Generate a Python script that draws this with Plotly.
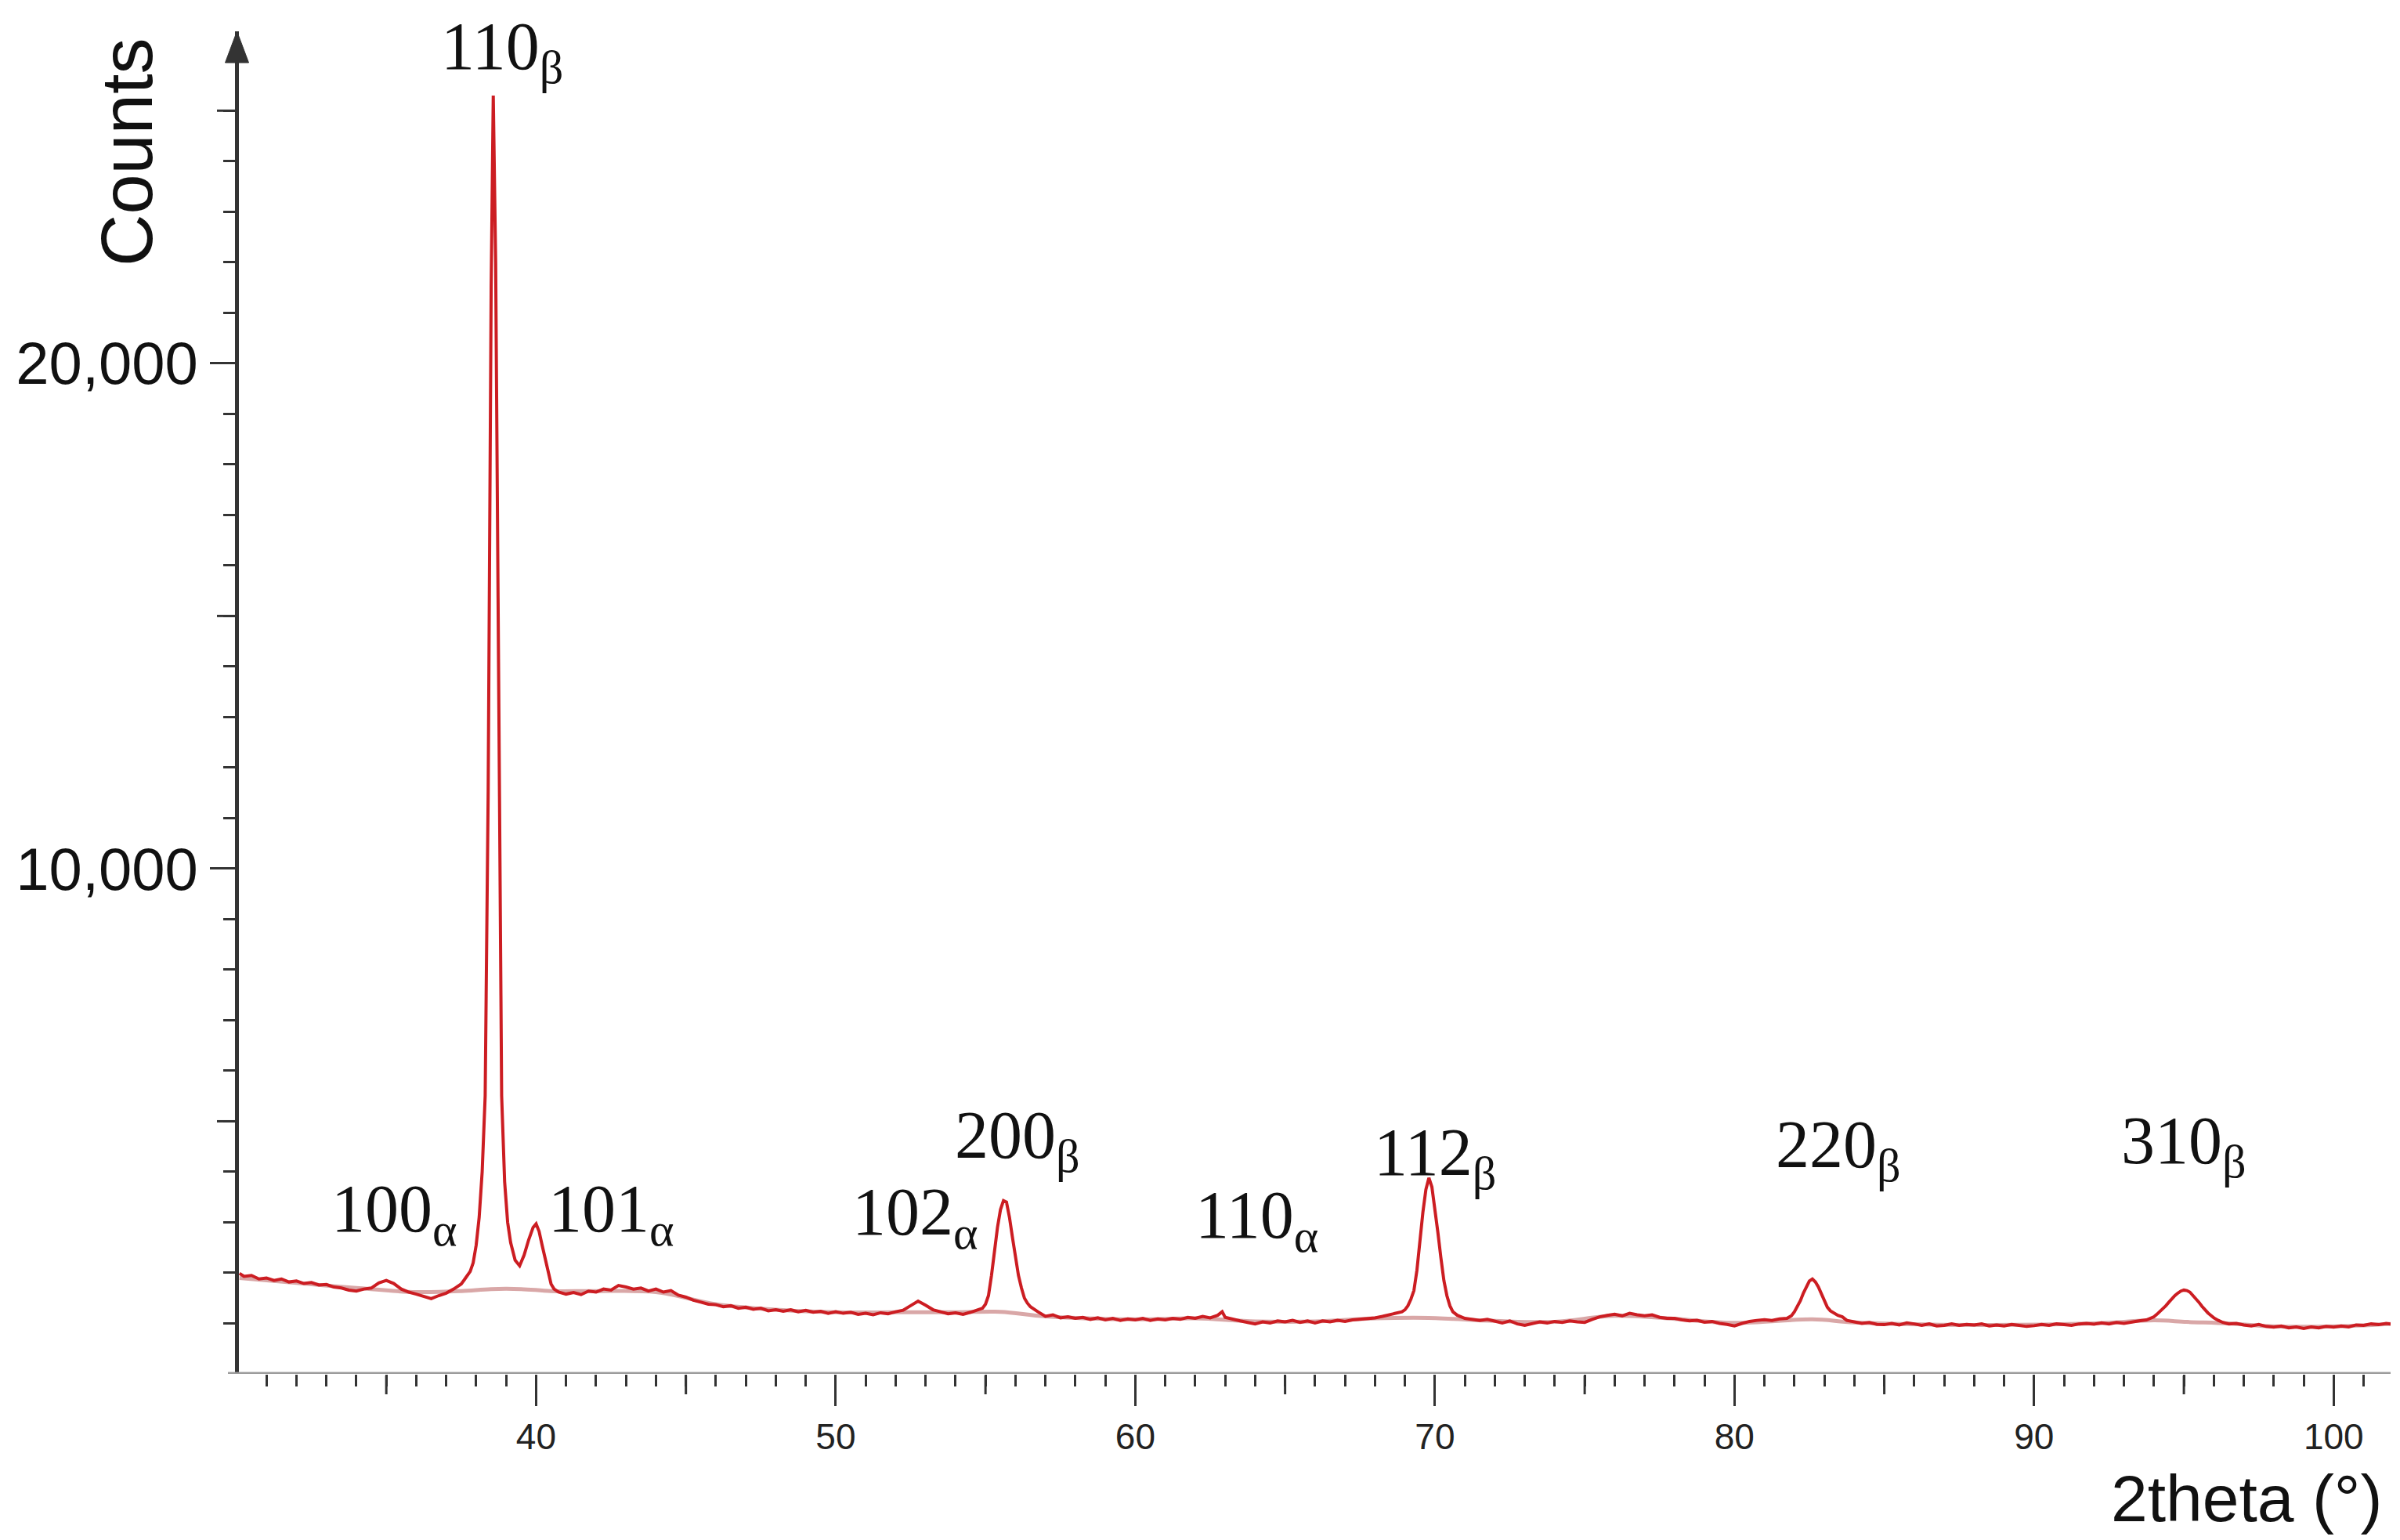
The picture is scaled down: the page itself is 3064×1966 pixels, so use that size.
import plotly.graph_objects as go

# Difractograma XRD
two_theta = [
    30.1, 30.25, 30.5, 30.75, 31.0, 31.25, 31.5, 31.75, 32.0, 32.25,
    32.5, 32.75, 33.0, 33.25, 33.5, 33.75, 34.0, 34.25, 34.5, 34.75,
    35.0, 35.25, 35.5, 35.75, 36.0, 36.25, 36.5, 36.75, 37.0, 37.25,
    37.5, 37.6, 37.7, 37.8, 37.9, 38.0, 38.1, 38.2, 38.3, 38.4,
    38.5, 38.57, 38.65, 38.75, 38.85, 38.95, 39.05, 39.15, 39.3, 39.45,
    39.6, 39.75, 39.9, 40.0, 40.1, 40.2, 40.3, 40.4, 40.5, 40.6,
    40.75, 41.0, 41.25, 41.5, 41.75, 42.0, 42.25, 42.5, 42.75, 43.0,
    43.25, 43.5, 43.75, 44.0, 44.25, 44.5, 44.75, 45.0, 45.25, 45.5,
    45.75, 46.0, 46.25, 46.5, 46.75, 47.0, 47.25, 47.5, 47.75, 48.0,
    48.25, 48.5, 48.75, 49.0, 49.25, 49.5, 49.75, 50.0, 50.25, 50.5,
    50.75, 51.0, 51.25, 51.5, 51.75, 52.0, 52.25, 52.5, 52.75, 53.0,
    53.25, 53.5, 53.75, 54.0, 54.25, 54.5, 54.75, 54.9, 55.0, 55.1,
    55.2, 55.3, 55.4, 55.5, 55.6, 55.7, 55.8, 55.9, 56.0, 56.1,
    56.2, 56.3, 56.4, 56.5, 56.75, 57.0, 57.25, 57.5, 57.75, 58.0,
    58.25, 58.5, 58.75, 59.0, 59.25, 59.5, 59.75, 60.0, 60.25, 60.5,
    60.75, 61.0, 61.25, 61.5, 61.75, 62.0, 62.25, 62.5, 62.75, 62.9,
    63.0, 63.25, 63.5, 63.75, 64.0, 64.25, 64.5, 64.75, 65.0, 65.25,
    65.5, 65.75, 66.0, 66.25, 66.5, 66.75, 67.0, 67.25, 67.5, 67.75,
    68.0, 68.25, 68.5, 68.75, 68.9, 69.0, 69.1, 69.2, 69.3, 69.4,
    69.5, 69.6, 69.7, 69.8, 69.9, 70.0, 70.1, 70.2, 70.3, 70.4,
    70.5, 70.6, 70.75, 71.0, 71.25, 71.5, 71.75, 72.0, 72.25, 72.5,
    72.75, 73.0, 73.25, 73.5, 73.75, 74.0, 74.25, 74.5, 74.75, 75.0,
    75.25, 75.5, 75.75, 76.0, 76.25, 76.5, 76.75, 77.0, 77.25, 77.5,
    77.75, 78.0, 78.25, 78.5, 78.75, 79.0, 79.25, 79.5, 79.75, 80.0,
    80.25, 80.5, 80.75, 81.0, 81.25, 81.5, 81.75, 81.9, 82.0, 82.1,
    82.2, 82.3, 82.4, 82.5, 82.6, 82.7, 82.8, 82.9, 83.0, 83.1,
    83.2, 83.3, 83.45, 83.6, 83.75, 84.0, 84.25, 84.5, 84.75, 85.0,
    85.25, 85.5, 85.75, 86.0, 86.25, 86.5, 86.75, 87.0, 87.25, 87.5,
    87.75, 88.0, 88.25, 88.5, 88.75, 89.0, 89.25, 89.5, 89.75, 90.0,
    90.25, 90.5, 90.75, 91.0, 91.25, 91.5, 91.75, 92.0, 92.25, 92.5,
    92.75, 93.0, 93.25, 93.5, 93.75, 93.9, 94.0, 94.1, 94.2, 94.3,
    94.4, 94.5, 94.6, 94.7, 94.8, 94.9, 95.0, 95.1, 95.2, 95.3,
    95.4, 95.5, 95.6, 95.7, 95.8, 95.9, 96.0, 96.15, 96.3, 96.5,
    96.75, 97.0, 97.25, 97.5, 97.75, 98.0, 98.25, 98.5, 98.75, 99.0,
    99.25, 99.5, 99.75, 100.0, 100.25, 100.5, 100.75, 101.0, 101.25, 101.5,
    101.75, 101.9,
]
counts = [
    1990, 1930, 1950, 1880, 1900, 1850, 1880, 1820, 1840, 1790,
    1810, 1760, 1770, 1720, 1700, 1660, 1640, 1680, 1700, 1800,
    1850, 1790, 1680, 1620, 1580, 1530, 1490, 1550, 1600, 1680,
    1780, 1860, 1940, 2030, 2200, 2550, 3100, 4000, 5500, 11500,
    21500, 25300, 22000, 13000, 5500, 3800, 3000, 2600, 2250, 2140,
    2350, 2650, 2900, 2970, 2820, 2550, 2300, 2000, 1780, 1680,
    1620, 1580, 1610, 1570, 1640, 1620, 1680, 1660, 1750, 1720,
    1680, 1700, 1640, 1680, 1620, 1650, 1560, 1520, 1460, 1420,
    1380, 1370, 1330, 1350, 1300, 1320, 1280, 1300, 1250, 1270,
    1240, 1270, 1230, 1260, 1220, 1240, 1200, 1230, 1200, 1220,
    1180, 1200, 1170, 1210, 1190, 1230, 1260, 1350, 1440, 1360,
    1270, 1230, 1190, 1210, 1180, 1220, 1260, 1300, 1380, 1550,
    1950, 2450, 2900, 3250, 3430, 3400, 3100, 2700, 2300, 1950,
    1700, 1500, 1400, 1330, 1230, 1140, 1170, 1110, 1130, 1100,
    1120, 1080, 1110, 1070, 1100, 1060, 1090, 1070, 1100, 1060,
    1090, 1070, 1100, 1080, 1120, 1100, 1140, 1110, 1160, 1230,
    1120, 1080, 1050, 1020, 990, 1030, 1010, 1050, 1030, 1060,
    1020, 1050, 1010, 1050, 1030, 1060, 1040, 1070, 1080, 1100,
    1110, 1140, 1170, 1200, 1230, 1270, 1350, 1480, 1650, 2050,
    2650, 3200, 3650, 3880, 3700, 3300, 2800, 2300, 1850, 1550,
    1350, 1230, 1160, 1100, 1080, 1060, 1080, 1040, 1010, 1050,
    990, 960, 1000, 1030, 1010, 1040, 1020, 1050, 1030, 1020,
    1080, 1130, 1160, 1180, 1150, 1200, 1170, 1150, 1170, 1120,
    1100, 1100, 1070, 1050, 1060, 1025, 1040, 1000, 980, 950,
    1000, 1040, 1060, 1075, 1060, 1090, 1100, 1150, 1230, 1330,
    1450, 1600, 1730, 1840, 1880, 1820, 1720, 1580, 1430, 1320,
    1250, 1210, 1160, 1130, 1060, 1030, 1000, 1020, 980, 975,
    1000, 970, 1010, 990, 960, 990, 950, 960, 990, 960,
    980, 970, 990, 950, 970, 950, 980, 960, 940, 955,
    980, 960, 990, 975, 960, 990, 1000, 985, 1010, 990,
    1020, 1000, 1030, 1050, 1070, 1100, 1130, 1180, 1230, 1280,
    1350, 1420, 1490, 1550, 1600, 1640, 1660, 1650, 1620, 1560,
    1490, 1420, 1340, 1270, 1210, 1160, 1110, 1060, 1020, 990,
    1000, 970, 950, 980, 940, 925, 950, 910, 930, 900,
    930, 910, 940, 925, 950, 930, 970, 960, 990, 975,
    1000, 990,
]
assert len(two_theta) == len(counts)

# Fondo ajustado (línea suave bajo los picos)
bg_theta = [30.1, 32, 34, 36, 37.5, 38.5, 39.5, 40.5, 42, 44, 46, 48, 50, 52, 54, 55.5,
            57, 60, 62, 64, 66, 68, 69.8, 72, 74, 76, 78, 80, 82.6, 84, 88, 92, 94, 95.1,
            96.5, 98, 100, 101.9]
bg_counts = [1900, 1800, 1700, 1620, 1640, 1680, 1680, 1640, 1640, 1620, 1380, 1270, 1220,
             1220, 1220, 1230, 1140, 1080, 1100, 1040, 1040, 1100, 1110, 1050, 1030, 1150,
             1090, 1010, 1080, 1020, 970, 1000, 1060, 1030, 1000, 940, 940, 990]

peak_hkl = ["110", "100", "101", "102", "200", "110", "112", "220", "310"]
peak_phase = ["β", "α", "α", "α", "β", "α", "β", "β", "β"]
# posición de las etiquetas (borde izquierdo y centro vertical, en ejes de datos)
label_x = [36.78, 33.1, 40.36, 50.5, 53.92, 61.94, 67.9, 81.33, 92.86]
label_y = [26180, 3180, 3180, 3120, 4640, 3060, 4300, 4450, 4520]

x_major = [40, 50, 60, 70, 80, 90, 100]
x_mid = [35, 45, 55, 65, 75, 85, 95]
y_major = [10000, 20000]
y_major_text = ["10,000", "20,000"]
y_mid = [5000, 15000, 25000]

W, H = 3064, 1966
ML, MR, MT, MB = 297, 20, 32, 220
PW, PH = W - ML - MR, H - MT - MB

fig = go.Figure()

fig.add_trace(go.Scatter(
    x=bg_theta, y=bg_counts, mode='lines',
    line=dict(color='rgba(180, 80, 80, 0.5)', width=5, shape='spline'),
    hoverinfo='skip'
))
fig.add_trace(go.Scatter(
    x=two_theta, y=counts, mode='lines',
    line=dict(color='#cc1d22', width=4),
    name='XRD'
))

for hkl, ph, lx, ly in zip(peak_hkl, peak_phase, label_x, label_y):
    fig.add_annotation(
        x=lx, y=ly, xref='x', yref='y',
        text=f"{hkl}<sub>{ph}</sub>",
        showarrow=False, xanchor='left', yanchor='middle',
        font=dict(family='Liberation Serif, Times New Roman, serif', size=86, color='#111111')
    )

fig.add_annotation(
    x=(154 - ML) / PW, y=(H - MB - 186) / PH, xref='paper', yref='paper',
    text='Counts', textangle=-90, showarrow=False,
    xanchor='center', yanchor='middle',
    font=dict(family='Liberation Sans, Arial, sans-serif', size=92, color='#111111')
)
fig.add_annotation(
    x=(3035 - ML) / PW, y=(H - MB - 1905) / PH, xref='paper', yref='paper',
    text='2theta (°)', showarrow=False,
    xanchor='right', yanchor='middle',
    font=dict(family='Liberation Sans, Arial, sans-serif', size=84, color='#111111')
)

# eje x gris, flecha del eje y, marcas intermedias
fig.add_shape(type='line', xref='paper', yref='y', x0=-14 / PW, x1=1, y0=0, y1=0,
              line=dict(color='#9c9c9c', width=5))
fig.add_shape(type='path', xref='paper', yref='paper',
              path=f"M {-17.5 / PW} {1 - 40 / PH} L {-2.5 / PW} 1 L {12.5 / PW} {1 - 40 / PH} Z",
              fillcolor='#333333', line=dict(color='#333333', width=1))
for v in x_mid:
    fig.add_shape(type='line', xref='x', yref='paper', x0=v, x1=v, y0=-2 / PH, y1=-26 / PH,
                  line=dict(color='#333333', width=3))
for v in y_mid:
    fig.add_shape(type='line', xref='paper', yref='y', x0=-4 / PW, x1=-28 / PW, y0=v, y1=v,
                  line=dict(color='#333333', width=3))

fig.update_layout(
    width=W, height=H,
    margin=dict(l=ML, r=MR, t=MT, b=MB),
    plot_bgcolor='white', paper_bgcolor='white',
    showlegend=False
)
fig.update_xaxes(
    range=[30.08, 101.9], showgrid=False, zeroline=False, showline=False,
    ticks='outside', tickvals=x_major, ticklen=40, tickwidth=3, tickcolor='#333333',
    tickfont=dict(family='Liberation Sans Narrow, Arial Narrow, Liberation Sans, sans-serif',
                  size=46, color='#222222'),
    minor=dict(ticks='outside', tick0=0, dtick=1, ticklen=15, tickwidth=3, tickcolor='#333333')
)
fig.update_yaxes(
    range=[0, 26570], showgrid=False, zeroline=False,
    showline=True, linecolor='#333333', linewidth=5,
    ticks='outside', tickvals=y_major, ticktext=y_major_text,
    ticklen=32, tickwidth=3, tickcolor='#333333',
    tickfont=dict(family='Liberation Sans, Arial, sans-serif', size=76, color='#111111'),
    minor=dict(ticks='outside', tickvals=[v for v in range(1000, 26000, 1000)],
               ticklen=15, tickwidth=3, tickcolor='#333333')
)

fig.write_html("out.html")
